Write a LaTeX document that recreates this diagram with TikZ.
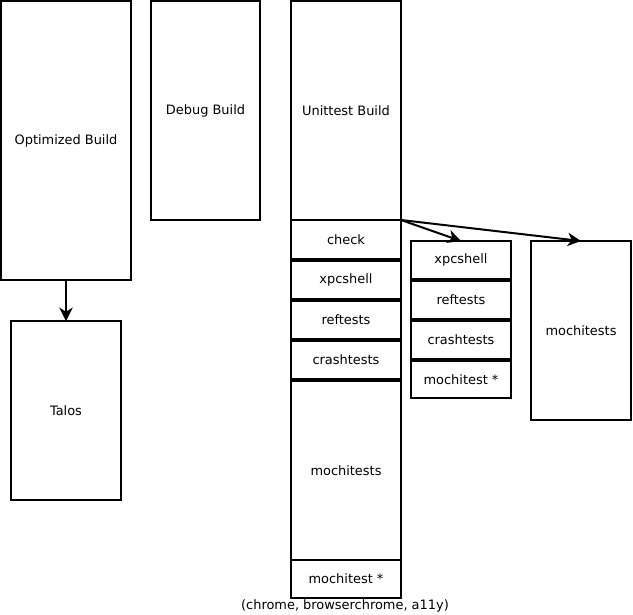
\documentclass[tikz,border=0pt]{standalone}
\usepackage{fontspec}
\setmainfont{DejaVu Sans}
\usetikzlibrary{arrows.meta}
\newcommand\mybox[6]{%
  \node[bx, minimum width={(#4-#2)*0.75pt}, minimum height={(#5-#3)*0.75pt}]
    (#1) at ({(#2+#4)/2},{(#3+#5)/2}) {#6};}
\begin{document}
\begin{tikzpicture}[x=0.75pt,y=-0.75pt,
  bx/.style={draw, line width=1.5pt, inner sep=0pt, outer sep=0pt, fill=white,
    font=\fontsize{9.7}{11}\selectfont},
  arr/.style={line width=1.5pt, -{Stealth[length=10pt,width=10pt,inset=3pt]}},
  note/.style={font=\fontsize{9.7}{11}\selectfont}]
\useasboundingbox (0,0) rectangle (633,615);
% left
\mybox{opt}{1}{1}{131}{280}{Optimized Build}
\mybox{talos}{11}{321}{121}{500}{Talos}
\mybox{debug}{151}{1}{260}{220}{Debug Build}
% unittest stack
\mybox{unit}{291}{1}{401}{220}{Unittest Build}
\mybox{check}{291}{220}{401}{259}{check}
\mybox{xpc}{291}{261}{401}{299}{xpcshell}
\mybox{ref}{291}{301}{401}{339}{reftests}
\mybox{crash}{291}{341}{401}{379}{crashtests}
\mybox{mochi}{291}{381}{401}{560}{mochitests}
\mybox{mstar}{291}{560}{401}{598}{mochitest *}
% right stack
\mybox{rxpc}{411}{241}{511}{279}{xpcshell}
\mybox{rref}{411}{281}{511}{319}{reftests}
\mybox{rcrash}{411}{321}{511}{359}{crashtests}
\mybox{rmstar}{411}{361}{511}{398}{mochitest *}
\mybox{rmochi}{531}{241}{631}{420}{mochitests}
% note
\node[note] (nt) at (345,606) {(chrome, browserchrome, a11y)};
% arrows
\draw[arr] (opt.south) -- (talos.north);
\draw[arr] (check.north east) -- (rxpc.north);
\draw[arr] (check.north east) -- (rmochi.north);
\end{tikzpicture}
\end{document}
